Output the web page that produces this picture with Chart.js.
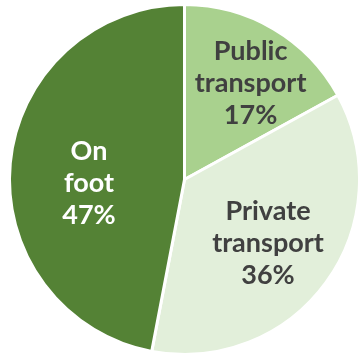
<!DOCTYPE html>
<html>
<head>
<meta charset="utf-8">
<script src="https://cdn.jsdelivr.net/npm/chart.js@4"></script>
<style>
  html, body { margin: 0; padding: 0; background: #ffffff; }
  #grafico { display: block; }
</style>
</head>
<body>
<canvas id="grafico" width="362" height="358"></canvas>
<script>
// reparto modal (%)
const categorias = ["Public transport", "Private transport", "On foot"];
const etiquetas = [["Public", "transport"], ["Private", "transport"], ["On", "foot"]];
const valores = [17, 36, 47];
const colores = ["#a9d18e", "#e2efda", "#548235"];
const coloresTexto = ["#404040", "#404040", "#ffffff"];

// ubicacion del texto: fraccion del radio y giro (grados) respecto al centro del sector
const posTexto = [0.665, 0.6, 0.546];
const giroTexto = [4, 1.3, -7.4];

const etiquetasPlugin = {
    id: "etiquetasPie",
    afterDatasetsDraw(chart){
        let ctx = chart.ctx;
        let meta = chart.getDatasetMeta(0);
        ctx.save();
        ctx.font = "bold 27px Lato";
        ctx.textAlign = "center";
        ctx.textBaseline = "middle";
        meta.data.forEach((arc, i) => {
            let p = arc.getProps(["x", "y", "startAngle", "endAngle", "outerRadius"], true);
            let a = (p.startAngle + p.endAngle) / 2 + giroTexto[i] * Math.PI / 180;
            let r = p.outerRadius * posTexto[i];
            let cx = p.x + Math.cos(a) * r;
            let cy = p.y + Math.sin(a) * r;
            let lineas = etiquetas[i].concat([valores[i] + "%"]);
            let lh = 32;
            ctx.fillStyle = coloresTexto[i];
            lineas.forEach((t, j) => {
                ctx.fillText(t, cx, cy + (j - (lineas.length - 1) / 2) * lh);
            });
        });
        ctx.restore();
    }
};

new Chart(document.getElementById("grafico"), {
    type: 'pie',
    data: {
        labels: categorias,
        datasets: [
            {
            data: valores,
            backgroundColor: colores,
            borderColor: "#ffffff",
            borderWidth: 3,
            hoverBorderWidth: 3
            }
        ]
    },
    options: {
        responsive: false,
        animation: false,
        layout: { padding: { left: 8, right: 1, top: 3, bottom: 2 } },
        plugins: {
            legend: { display: false },
            tooltip: { enabled: false }
        }
    },
    plugins: [etiquetasPlugin]
});
</script>
</body>
</html>
